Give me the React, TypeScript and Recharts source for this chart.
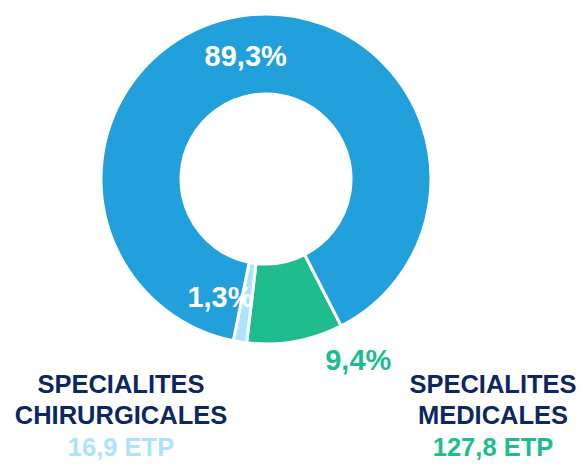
import React from 'react';
import { PieChart, Pie, Cell } from 'recharts';

// shares of ETP, clockwise from the green slice
const categories = ['Spécialités médicales', 'Spécialités chirurgicales', 'Autres'];
const shares = [9.4, 1.3, 89.3];
const colors = ['#1fbd8e', '#ade3fb', '#21a0db'];

const leftTitle = ['SPECIALITES', 'CHIRURGICALES'];
const leftEtp = '16,9 ETP';
const rightTitle = ['SPECIALITES', 'MEDICALES'];
const rightEtp = '127,8 ETP';

const NAVY = '#0c2762';
const RAD = Math.PI / 180;

const data = categories.map((name, i) => ({ name, value: shares[i] }));

const fmt = (v: number) => `${v.toFixed(1).replace('.', ',')}%`;

// where each label sits relative to its slice
const labelShift = [
  { r: 1.48, a: 16.8, fill: colors[0] },
  { r: 0.52, a: -12, fill: '#ffffff' },
  { r: 0.5, a: 1.5, fill: '#ffffff' },
];

const renderLabel = (props: any) => {
  const { cx, cy, midAngle, innerRadius, outerRadius, index } = props;
  const s = labelShift[index];
  const radius = innerRadius + (outerRadius - innerRadius) * s.r;
  const ang = (midAngle + s.a) * RAD;
  const x = cx + radius * Math.cos(ang);
  const y = cy - radius * Math.sin(ang);
  return (
    <text
      x={x}
      y={y}
      fill={s.fill}
      textAnchor="middle"
      dominantBaseline="central"
      fontSize={29}
      fontWeight="bold"
      fontFamily="'Liberation Sans', Arial, sans-serif"
    >
      {fmt(shares[index])}
    </text>
  );
};

const BlockText: React.FC<{ x: number; title: string[]; etp: string; etpColor: string }> = ({ x, title, etp, etpColor }) => (
  <g fontFamily="'Liberation Sans', Arial, sans-serif" fontWeight="bold" fontSize={25.5} textAnchor="middle">
    {title.map((t, i) => (
      <text key={t} x={x} y={393 + i * 31} fill={NAVY}>
        {t}
      </text>
    ))}
    <text x={x} y={393 + title.length * 31 + 1} fill={etpColor}>
      {etp}
    </text>
  </g>
);

export default function App() {
  return (
    <div style={{ position: 'absolute', left: 0, top: 0, width: 587, height: 469, background: '#fff' }}>
      <PieChart width={587} height={469}>
        <Pie
          data={data}
          dataKey="value"
          nameKey="name"
          cx={261}
          cy={174}
          innerRadius={85}
          outerRadius={165}
          startAngle={-62.9}
          endAngle={-422.9}
          stroke="#ffffff"
          strokeWidth={3}
          label={renderLabel}
          labelLine={false}
          isAnimationActive={false}
        >
          {data.map((d, i) => (
            <Cell key={d.name} fill={colors[i]} />
          ))}
        </Pie>
      </PieChart>
      <svg width={587} height={469} style={{ position: 'absolute', left: 0, top: 0, pointerEvents: 'none' }}>
        <BlockText x={121} title={leftTitle} etp={leftEtp} etpColor={colors[1]} />
        <BlockText x={493} title={rightTitle} etp={rightEtp} etpColor={colors[0]} />
      </svg>
    </div>
  );
}
